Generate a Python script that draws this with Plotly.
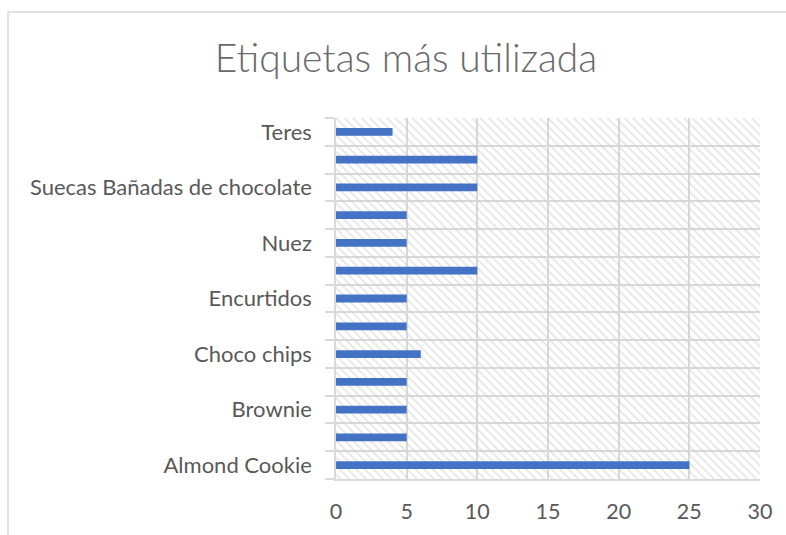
import plotly.graph_objects as go

# Categories from bottom to top (hidden labels unknown in the reference)
categories = [
    "Almond Cookie", "(sin etiqueta 1)", "Brownie", "(sin etiqueta 2)",
    "Choco chips", "(sin etiqueta 3)", "Encurtidos", "(sin etiqueta 4)",
    "Nuez", "(sin etiqueta 5)", "Suecas Bañadas de chocolate",
    "(sin etiqueta 6)", "Teres",
]
values = [25, 5, 5, 5, 6, 5, 5, 10, 5, 5, 10, 10, 4]
x_ticks = [0, 5, 10, 15, 20, 25, 30]

n = len(categories)
ypos = list(range(n))
shown = ypos[::2]

GRID = "#d9d9d9"
TXT = "#595959"

W, H = 786, 535
L, R, T, B = 336, 26, 118, 56
PW, PH = W - L - R, H - T - B

fig = go.Figure()

# hatched plot-area background (drawn first, bars on top)
fig.add_trace(go.Bar(
    x=[x_ticks[-1]], y=[(n - 1) / 2], base=0, width=n, orientation="h",
    marker=dict(color="rgba(0,0,0,0)", line=dict(width=0),
                pattern=dict(shape="\\", fgcolor="#cccccc", size=6,
                             solidity=0.3)),
    hoverinfo="skip", showlegend=False,
))

fig.add_trace(go.Bar(
    x=values, y=ypos, orientation="h", width=0.28,
    marker=dict(color="#4472C4", line=dict(width=0)),
    showlegend=False,
))

fig.update_layout(
    width=W, height=H,
    margin=dict(l=L, r=R, t=T, b=B),
    barmode="overlay",
    paper_bgcolor="white", plot_bgcolor="white",
    title=dict(text="Etiquetas más utilizada", x=406 / W, xanchor="center",
               xref="container", y=1 - 58 / H, yref="container",
               yanchor="middle",
               font=dict(family="Lato", size=39, color="#6a6a6a", weight=300)),
    font=dict(family="Lato", color=TXT),
    xaxis=dict(range=[0, 30], tickvals=x_ticks, showgrid=True,
               gridcolor=GRID, gridwidth=1.5, zeroline=False,
               showline=True, linecolor=GRID, linewidth=1.5,
               tickfont=dict(size=21.5, color=TXT), ticklabelstandoff=12),
    yaxis=dict(range=[-0.5, n - 0.5], tickvals=shown,
               ticktext=[categories[i] for i in shown],
               showgrid=False, zeroline=False,
               showline=True, linecolor=GRID, linewidth=1.5,
               tickfont=dict(size=22, color=TXT), ticklabelstandoff=18,
               ticks="",
               minor=dict(tickvals=[i - 0.5 for i in range(n + 1)],
                          showgrid=True, gridcolor=GRID, gridwidth=1.5,
                          ticks="outside", ticklen=9, tickcolor=GRID,
                          tickwidth=1.5)),
    shapes=[dict(type="rect", xref="paper", yref="paper",
                 x0=(8 - L) / PW, x1=(W + 40 - L) / PW,
                 y0=-(B + 40) / PH, y1=(PH + T - 12) / PH,
                 line=dict(color=GRID, width=1.5), fillcolor="rgba(0,0,0,0)",
                 layer="below")],
)

fig.write_html(
    "out.html",
    config={"displayModeBar": False},
    post_script=(
        "document.body.style.margin='0';"
        "document.body.style.overflow='hidden';"
        "document.documentElement.style.overflow='hidden';"
    ),
)
